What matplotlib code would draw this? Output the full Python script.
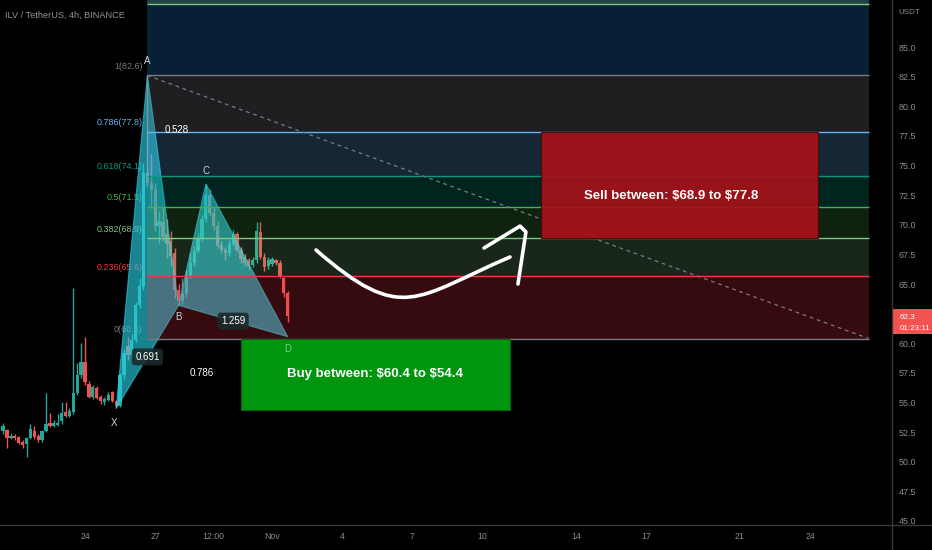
import matplotlib.pyplot as plt
import numpy as np
import matplotlib.transforms as mtransforms
from matplotlib.lines import Line2D
from matplotlib.patches import Rectangle, Polygon, PathPatch
from matplotlib.path import Path

plt.rcParams['font.family'] = ['Liberation Sans Narrow', 'Liberation Sans', 'DejaVu Sans']

# velas de 4h ILV/USDT (eje x en dias contados desde el 24 de octubre)
opens = [52.6, 52.7, 52.0, 52.2, 52.1, 51.7, 51.5, 52.0, 52.6, 52.2,
         51.8, 52.6, 53.3, 53.0, 53.1, 53.4, 54.2, 53.9, 54.2, 55.8,
         57.3, 58.4, 56.6, 55.5, 56.2, 55.5, 55.0, 55.2, 55.9, 55.1,
         54.7, 57.3, 59.8, 59.0, 60.3, 63.2, 64.8, 74.4, 73.5, 73.0,
         69.9, 70.2, 69.2, 68.6, 67.6, 64.5, 63.6, 64.2, 65.8, 66.8,
         67.8, 68.9, 70.5, 72.5, 71.0, 69.9, 68.3, 67.9, 67.6, 68.4,
         69.2, 67.9, 67.3, 67.0, 66.6, 67.0, 69.4, 67.3, 66.5, 66.7,
         67.0, 66.8, 65.5, 64.2]
highs = [53.3, 52.8, 52.4, 52.3, 52.2, 51.8, 52.1, 53.2, 53.0, 52.3,
         52.7, 55.8, 54.1, 53.5, 54.0, 55.0, 55.0, 54.5, 64.7, 58.3,
         60.0, 60.5, 56.8, 56.5, 56.4, 55.6, 55.5, 55.9, 56.0, 55.2,
         57.5, 59.5, 60.5, 60.8, 63.5, 65.5, 75.2, 82.6, 76.0, 73.5,
         71.2, 71.5, 70.5, 69.5, 68.0, 65.0, 65.5, 66.2, 67.6, 68.2,
         69.3, 70.8, 73.45, 73.0, 71.5, 70.3, 68.6, 68.1, 68.7, 69.6,
         69.4, 68.1, 67.5, 67.2, 67.3, 70.2, 70.2, 67.6, 67.3, 67.3,
         67.1, 67.0, 65.6, 64.4]
lows = [52.3, 51.2, 51.9, 51.8, 51.5, 51.2, 50.4, 51.9, 51.9, 51.7,
        51.7, 52.5, 52.9, 52.9, 53.0, 53.2, 53.8, 53.8, 54.0, 55.6,
        57.1, 56.5, 55.4, 55.3, 55.3, 54.9, 54.8, 55.1, 55.0, 54.5,
        54.6, 57.0, 58.6, 58.8, 60.1, 63.0, 64.5, 73.2, 71.4, 69.5,
        68.5, 68.6, 67.2, 66.5, 63.8, 63.2, 63.3, 63.9, 65.5, 66.5,
        67.6, 68.6, 70.2, 70.8, 69.6, 68.0, 67.6, 67.0, 67.4, 68.2,
        67.7, 66.8, 66.5, 66.3, 66.4, 66.8, 67.1, 66.1, 66.3, 66.5,
        66.6, 65.5, 63.9, 61.8]
closes = [53.0, 52.0, 52.2, 52.0, 51.6, 51.4, 52.0, 52.8, 52.1, 51.8,
          52.6, 53.2, 53.0, 53.3, 53.3, 54.1, 53.9, 54.3, 55.8, 57.3,
          58.4, 56.7, 55.5, 56.3, 55.4, 55.1, 55.3, 55.6, 55.1, 54.7,
          57.3, 59.2, 59.0, 60.3, 63.2, 64.8, 74.4, 73.5, 72.9, 69.9,
          70.3, 69.0, 68.4, 67.4, 64.5, 63.6, 64.2, 65.8, 66.8, 67.8,
          68.9, 70.5, 72.5, 71.0, 69.9, 68.2, 67.9, 67.6, 68.4, 69.2,
          67.9, 67.1, 66.8, 66.5, 67.0, 69.5, 67.3, 66.4, 67.0, 67.1,
          66.8, 65.7, 64.2, 62.3]
first_bar = -3.5          # 20 oct 12:00
bar_days = first_bar + np.arange(len(opens)) / 6

# patron armonico XABCD
pattern_names = ['X', 'A', 'B', 'C', 'D']
pattern_days = [1.333, 2.667, 4.0, 5.167, 8.667]
pattern_prices = [54.5, 82.6, 63.2, 73.45, 60.55]
ratio_labels = ['0.691', '0.528', '1.259', '0.786']

# retroceso de fibonacci A -> 0
fib_levels = [0, 0.236, 0.382, 0.5, 0.618, 0.786, 1, 1.272, 1.414]
fib_low, fib_high = 60.4, 82.6
fib_start, fib_end = 2.667, 33.5

# zonas de compra / venta
buy_low, buy_high = 54.4, 60.4
buy_days = (6.667, 18.167)
sell_low, sell_high = 68.9, 77.8
sell_days = (19.5, 31.33)

# flecha dibujada a mano
arrow_days = [9.876, 13.58, 14.12, 18.17]
arrow_prices = [67.87, 61.51, 63.85, 67.28]
head_days = [17.06, 18.60, 18.85, 18.51]
head_prices = [68.04, 69.89, 69.39, 65.0]

last_price = 62.3
countdown = '01:23:11'

tick_days = [0, 3, 5.5, 8, 11, 14, 17, 21, 24, 28, 31]
tick_labels = ['24', '27', '12:00', 'Nov', '4', '7', '10', '14', '17', '21', '24']
price_ticks = np.arange(45, 85.1, 2.5)

fib_colors = ['#787b86', '#f23645', '#81c784', '#4caf50', '#089981',
              '#64b5f6', '#787b86', '#81c784', '#26a69a']
band_colors = ['#f23645', '#81c784', '#4caf50', '#089981', '#64b5f6',
               '#787b86', '#2196f3', '#4fa3a0']
band_alpha = [0.22, 0.2, 0.2, 0.24, 0.22, 0.26, 0.22, 0.42]

bg = '#000000'
up, down = '#26a69a', '#ef5350'
txt = '#8a8d94'

fig = plt.figure(figsize=(9.32, 5.5), dpi=100, facecolor=bg)
ax = fig.add_axes([0, 25 / 550, 892 / 932, 525 / 550])
ax.set_facecolor(bg)
ax.set_xlim(-3.634, 34.5)
ax.set_ylim(44.66, 88.97)
for s in ax.spines.values():
    s.set_visible(False)

# velas
o = np.array(opens); c = np.array(closes)
cols = [up if cc >= oo else down for oo, cc in zip(o, c)]
ax.vlines(bar_days, lows, highs, colors=cols, lw=1, zorder=2)
body = np.maximum(np.abs(c - o), 0.1)
ax.bar(bar_days, body, bottom=np.minimum(o, c), width=0.14, color=cols, lw=0, zorder=2)

# triangulos XAB y BCD
pts = list(zip(pattern_days, pattern_prices))
for tri in (pts[0:3], pts[2:5]):
    ax.add_patch(Polygon(tri, closed=True, fc='#2ad4ea', ec='#2ad4ea', lw=0.8,
                         alpha=0.62, zorder=3))

# fibonacci
fib_prices = [fib_low + r * (fib_high - fib_low) for r in fib_levels]
for i in range(1, len(fib_levels)):
    ax.fill_between([fib_start, fib_end], fib_prices[i - 1], fib_prices[i],
                    color=band_colors[i - 1], alpha=band_alpha[i - 1], lw=0, zorder=4)
for r, p, col in zip(fib_levels, fib_prices, fib_colors):
    ax.hlines(p, fib_start, fib_end, color=col, lw=1, zorder=4.5)
    if r <= 1:
        ax.annotate(f'{r:g}({p:.1f})', (fib_start, p), xytext=(-5, 9),
                    textcoords='offset pixels', ha='right', va='center',
                    color=col, fontsize=6.4, zorder=2.8)
ax.plot([fib_start, fib_end], [fib_high, fib_low], color='#787b86', lw=0.9,
        ls=(0, (3, 3)), zorder=5)

# etiquetas del patron
offs = {'X': (-2, -15), 'A': (0, 14), 'B': (0, -12), 'C': (0, 13), 'D': (0, -12)}
for n, d, p in zip(pattern_names, pattern_days, pattern_prices):
    ax.annotate(n, (d, p), xytext=offs[n], textcoords='offset pixels',
                ha='center', va='center', fontsize=7,
                color='#7fcf8a' if n == 'D' else '#d1d4dc', zorder=8)
pairs = [(0, 2), (1, 3), (2, 4), (0, 4)]
for (a, b), lab in zip(pairs, ratio_labels):
    mx = (pattern_days[a] + pattern_days[b]) / 2
    my = (pattern_prices[a] + pattern_prices[b]) / 2
    box = None
    if lab in ('0.691', '1.259'):
        box = dict(boxstyle='round,pad=0.35', fc='#1b2a2d', ec='none', alpha=0.9)
    ax.text(mx, my, lab, ha='center', va='center', fontsize=7, color='white',
            bbox=box, zorder=8)

# zonas
ax.add_patch(Rectangle((buy_days[0], buy_low), buy_days[1] - buy_days[0],
                       buy_high - buy_low, fc='#00950f', ec='#0b5e14', lw=0.8, zorder=6))
ax.text(sum(buy_days) / 2, (buy_low + buy_high) / 2,
        f'Buy between: ${buy_high} to ${buy_low}', ha='center', va='center',
        color='white', fontsize=9.5, fontweight='bold', zorder=9, parse_math=False)
ax.add_patch(Rectangle((sell_days[0], sell_low), sell_days[1] - sell_days[0],
                       sell_high - sell_low, fc='#a51219', ec='#4a0808', lw=0.8,
                       alpha=0.93, zorder=6))
ax.annotate(f'Sell between: ${sell_low} to ${sell_high}',
            (sum(sell_days) / 2, (sell_low + sell_high) / 2), xytext=(-8, -11),
            textcoords='offset pixels', ha='center', va='center',
            color='white', fontsize=9.5, fontweight='bold', zorder=9, parse_math=False)

# flecha
curve = Path(list(zip(arrow_days, arrow_prices)),
             [Path.MOVETO, Path.CURVE4, Path.CURVE4, Path.CURVE4])
ax.add_patch(PathPatch(curve, fc='none', ec='white', lw=2.6, capstyle='round', zorder=7))
ax.plot(head_days, head_prices, color='white', lw=2.6, solid_capstyle='round',
        solid_joinstyle='round', zorder=7)

# ejes (la etiqueta tapada por el precio actual no se muestra)
ax.set_xticks(tick_days, tick_labels)
ax.tick_params(axis='x', length=0, pad=5, labelsize=6.3, labelcolor=txt)
ax.yaxis.tick_right()
ax.set_yticks(price_ticks, ['' if abs(v - last_price) < 1 else f'{v:.1f}'
                            for v in price_ticks])
ax.tick_params(axis='y', length=0, pad=5, labelsize=6.4, labelcolor=txt)

# precio actual
tr = mtransforms.blended_transform_factory(ax.transAxes, ax.transData)
ax.add_patch(Rectangle((1.001, last_price - 1.5), 0.05, 2.1, transform=tr,
                       fc='#f05350', ec='none', clip_on=False, zorder=10))
ax.text(1.009, last_price - 0.1, f'{last_price}', transform=tr, color='white',
        fontsize=5.8, va='center', clip_on=False, zorder=11)
ax.text(1.009, last_price - 1.05, countdown, transform=tr, color='white',
        fontsize=5.8, va='center', clip_on=False, zorder=11)

fig.add_artist(Line2D([892 / 932, 892 / 932], [0, 1], color='#3a3a3a', lw=1))
fig.add_artist(Line2D([0, 1], [25 / 550, 25 / 550], color='#3a3a3a', lw=1))
fig.text(5 / 932, 1 - 15 / 550, 'ILV / TetherUS, 4h, BINANCE', va='center',
         color='#8f939c', fontsize=6.6)
fig.text(898 / 932, 1 - 12 / 550, 'USDT', va='center', color=txt, fontsize=5.8)

fig.savefig('out.png', dpi=100, facecolor=bg)
